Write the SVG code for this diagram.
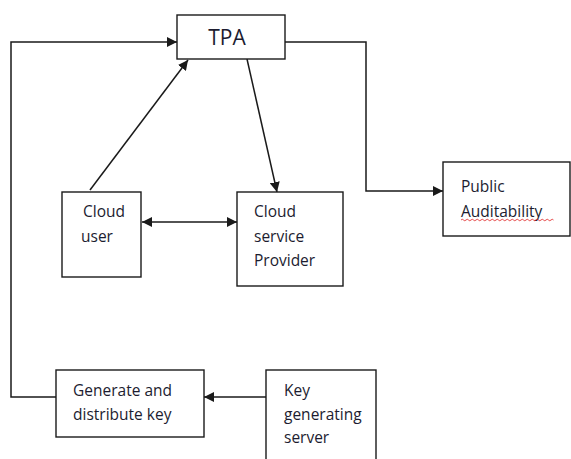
<svg xmlns="http://www.w3.org/2000/svg" width="571" height="459" viewBox="0 0 571 459">
  <style>
    .box { fill: #ffffff; stroke: #1a1a1a; stroke-width: 1.4; }
    .edge { fill: none; stroke: #1a1a1a; stroke-width: 1.5; }
    .label { font-family: "Open Sans", "Liberation Sans", sans-serif; font-size: 15.5px; fill: #1c1c30; }
    .title { font-family: "Open Sans", "Liberation Sans", sans-serif; font-size: 21px; fill: #1c1c30; }
    .squiggle { fill: none; stroke: #e02020; stroke-width: 0.8; }
  </style>
  <defs>
    <marker id="arrow" viewBox="0 0 10 10" refX="10" refY="5" markerWidth="10" markerHeight="10" markerUnits="userSpaceOnUse" orient="auto-start-reverse">
      <path d="M0,0 L10,5 L0,10 Z" fill="#1a1a1a"/>
    </marker>
  </defs>
  <rect width="571" height="459" fill="#ffffff"/>

  <g id="connectors">
    <!-- key loop back up to TPA -->
    <path class="edge" d="M56,397 H11 V42 H177" marker-end="url(#arrow)"/>
    <!-- cloud user to TPA -->
    <path class="edge" d="M90,190 L188,60" marker-end="url(#arrow)"/>
    <!-- TPA to cloud service provider -->
    <path class="edge" d="M247,59 L277,192" marker-end="url(#arrow)"/>
    <!-- TPA to public auditability -->
    <path class="edge" d="M285,42 H366 V191 H443" marker-end="url(#arrow)"/>
    <!-- cloud user <-> provider -->
    <path class="edge" d="M142,222 H237" marker-start="url(#arrow)" marker-end="url(#arrow)"/>
    <!-- key server to generate -->
    <path class="edge" d="M266,397 H204" marker-end="url(#arrow)"/>
  </g>

  <g id="tpa">
    <rect class="box" x="177" y="15" width="108" height="44"/>
    <text class="title" x="227" y="45" text-anchor="middle">TPA</text>
  </g>

  <g id="public-auditability">
    <rect class="box" x="443" y="162" width="127" height="74"/>
    <text class="label" x="461" y="192">Public</text>
    <text class="label" x="461" y="217">Auditability</text>
    <path class="squiggle" d="M461,220 q1.25,-1.5 2.5,0 t2.5,0 t2.5,0 t2.5,0 t2.5,0 t2.5,0 t2.5,0 t2.5,0 t2.5,0 t2.5,0 t2.5,0 t2.5,0 t2.5,0 t2.5,0 t2.5,0 t2.5,0 t2.5,0 t2.5,0 t2.5,0 t2.5,0 t2.5,0 t2.5,0 t2.5,0 t2.5,0 t2.5,0 t2.5,0 t2.5,0 t2.5,0 t2.5,0 t2.5,0 t2.5,0 t2.5,0 t2.5,0 t2.5,0 t2.5,0 t2.5,0 t2.5,0"/>
  </g>

  <g id="cloud-user">
    <rect class="box" x="62" y="192" width="79" height="85"/>
    <text class="label" x="83" y="217">Cloud</text>
    <text class="label" x="81" y="242">user</text>
  </g>

  <g id="cloud-service-provider">
    <rect class="box" x="237" y="192" width="106" height="94"/>
    <text class="label" x="254" y="217">Cloud</text>
    <text class="label" x="254" y="242">service</text>
    <text class="label" x="254" y="266">Provider</text>
  </g>

  <g id="generate-key">
    <rect class="box" x="56" y="370" width="148" height="67"/>
    <text class="label" x="73" y="396">Generate and</text>
    <text class="label" x="73" y="420">distribute key</text>
  </g>

  <g id="key-server">
    <rect class="box" x="266" y="370" width="110" height="100"/>
    <text class="label" x="284" y="396">Key</text>
    <text class="label" x="284" y="420">generating</text>
    <text class="label" x="284" y="443">server</text>
  </g>
</svg>
